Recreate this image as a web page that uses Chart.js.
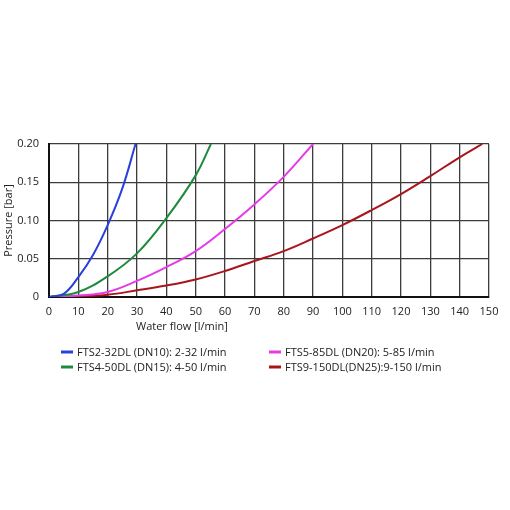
<!DOCTYPE html>
<html>
<head>
<meta charset="utf-8">
<script src="https://cdn.jsdelivr.net/npm/chart.js@4.4.0/dist/chart.umd.min.js"></script>
<style>
  html, body { margin: 0; padding: 0; background: #fff; }
  #wrap { width: 510px; height: 510px; }
</style>
</head>
<body>
<div id="wrap"><canvas id="flowChart"></canvas></div>
<script>
// series data (flow in l/min, pressure in bar)
const seriesNames = [
    'FTS2-32DL (DN10): 2-32 l/min',
    'FTS4-50DL (DN15): 4-50 l/min',
    'FTS5-85DL (DN20): 5-85 l/min',
    'FTS9-150DL(DN25):9-150 l/min'
];
const seriesColors = ['#2a3fdc', '#1d8a3c', '#e43ce6', '#a8161c'];

const flowFTS2 = [0, 5, 10, 15, 20, 25, 29.5];
const pressFTS2 = [0, 0.004, 0.026, 0.055, 0.094, 0.142, 0.2];

const flowFTS4 = [0, 10, 20, 30, 40, 50, 55.2];
const pressFTS4 = [0, 0.0066, 0.027, 0.057, 0.103, 0.159, 0.2];

const flowFTS5 = [0, 10, 20, 30, 40, 50, 60, 70, 80, 90];
const pressFTS5 = [0, 0.002, 0.0066, 0.021, 0.039, 0.060, 0.089, 0.121, 0.157, 0.2];

const flowFTS9 = [0, 10, 20, 30, 40, 50, 60, 70, 80, 90, 100, 110, 120, 130, 140, 147.7];
const pressFTS9 = [0, 0.001, 0.003, 0.0087, 0.015, 0.023, 0.034, 0.047, 0.060, 0.0765, 0.094, 0.1136, 0.1345, 0.158, 0.1826, 0.2];

const xTitle = 'Water flow [l/min]';
const yTitle = 'Pressure [bar]';

const FONT = "'Open Sans', 'Noto Sans', sans-serif";

function toPoints(xs, ys) {
    return xs.map(function(x, i) { return { x: x, y: ys[i] }; });
}

const allSeries = [
    toPoints(flowFTS2, pressFTS2),
    toPoints(flowFTS4, pressFTS4),
    toPoints(flowFTS5, pressFTS5),
    toPoints(flowFTS9, pressFTS9)
];

// legend in two columns + x title, drawn under the plot
const extrasPlugin = {
    id: 'extras',
    afterDraw: function(chart) {
        const ctx = chart.ctx;
        ctx.save();
        ctx.font = '11px ' + FONT;
        ctx.fillStyle = '#222';
        ctx.textBaseline = 'middle';
        ctx.textAlign = 'left';
        ctx.fillText(xTitle, 136, 327);

        // column x positions / row y positions
        const cols = [61, 269];
        const rows = [352, 367];
        const order = [[0, 0, 0], [1, 0, 1], [2, 1, 0], [3, 1, 1]];
        order.forEach(function(o) {
            const x = cols[o[1]], y = rows[o[2]];
            ctx.strokeStyle = seriesColors[o[0]];
            ctx.lineWidth = 3;
            ctx.beginPath();
            ctx.moveTo(x, y);
            ctx.lineTo(x + 12, y);
            ctx.stroke();
            ctx.fillText(seriesNames[o[0]], x + 16, y + 0.5);
        });
        ctx.restore();
    }
};

const ctx = document.getElementById('flowChart').getContext('2d');
const flowChart = new Chart(ctx, {
    type: 'line',
    data: {
        datasets: allSeries.map(function(pts, i) {
            return {
                label: seriesNames[i],
                data: pts,
                borderColor: seriesColors[i],
                backgroundColor: seriesColors[i],
                borderWidth: 2,
                pointRadius: 0,
                fill: false,
                tension: 0.4
            };
        })
    },
    options: {
        responsive: true,
        maintainAspectRatio: false,
        animation: false,
        layout: { padding: { top: 144, right: 21, bottom: 173, left: 0 } },
        plugins: {
            legend: { display: false },
            tooltip: { enabled: false }
        },
        scales: {
            x: {
                type: 'linear',
                min: 0,
                max: 150,
                afterFit: function(s) { s.height = 40; },
                ticks: {
                    stepSize: 10,
                    padding: 8,
                    color: '#222',
                    font: { family: FONT, size: 11 },
                    maxRotation: 0
                },
                grid: { color: '#3c3c3c', lineWidth: 1.3, drawTicks: false },
                border: { color: '#111', width: 2 }
            },
            y: {
                min: 0,
                max: 0.2,
                afterFit: function(s) { s.width = 49; },
                ticks: {
                    stepSize: 0.05,
                    padding: 10,
                    color: '#222',
                    font: { family: FONT, size: 11 },
                    callback: function(v) { return v === 0 ? '0' : v.toFixed(2); }
                },
                title: {
                    display: true,
                    text: yTitle,
                    color: '#222',
                    font: { family: FONT, size: 11 },
                    padding: { top: 2, bottom: 0 }
                },
                grid: { color: '#3c3c3c', lineWidth: 1.3, drawTicks: false },
                border: { color: '#111', width: 2 }
            }
        }
    },
    plugins: [extrasPlugin]
});
</script>
</body>
</html>
